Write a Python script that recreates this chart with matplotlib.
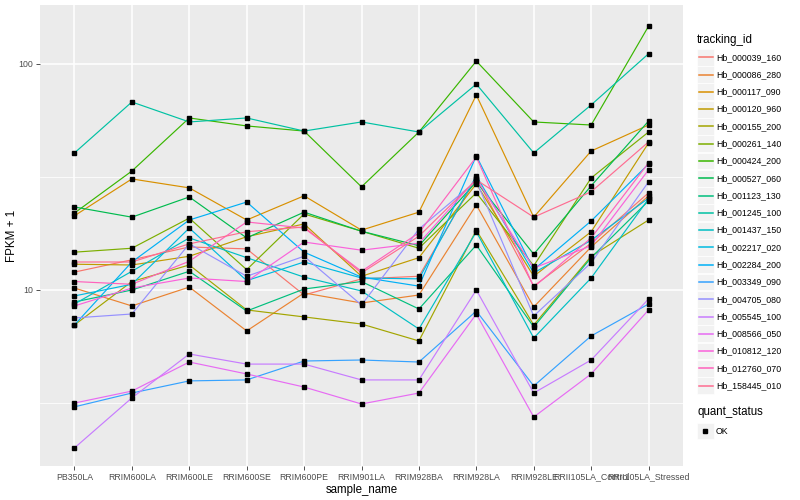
import matplotlib
matplotlib.use('Agg')
from matplotlib import pyplot as plt
from matplotlib.patches import Rectangle
from matplotlib.lines import Line2D
from matplotlib.ticker import FixedLocator, NullFormatter

plt.rcParams['font.family'] = ['Liberation Sans', 'DejaVu Sans']

samples = ['PB350LA', 'RRIM600LA', 'RRIM600LE', 'RRIM600SE', 'RRIM600PE',
           'RRIM901LA', 'RRIM928BA', 'RRIM928LA', 'RRIM928LE',
           'RRII105LA_Control', 'RRII105LA_Stressed']

ids = ['Hb_000039_160', 'Hb_000086_280', 'Hb_000117_090', 'Hb_000120_960',
       'Hb_000155_200', 'Hb_000261_140', 'Hb_000424_200', 'Hb_000527_060',
       'Hb_001123_130', 'Hb_001245_100', 'Hb_001437_150', 'Hb_002217_020',
       'Hb_002284_200', 'Hb_003349_090', 'Hb_004705_080', 'Hb_005545_100',
       'Hb_008566_050', 'Hb_010812_120', 'Hb_012760_070', 'Hb_158445_010']

# ggplot hue palette, 20 levels
colors = ['#F8766D', '#EA8331', '#D89000', '#C09B00', '#A3A500', '#7CAE00',
          '#39B600', '#00BB4E', '#00BF7D', '#00C1A3', '#00BFC4', '#00BAE0',
          '#00B0F6', '#35A2FF', '#9590FF', '#C77CFF', '#E76BF3', '#FA62DB',
          '#FF62BC', '#FF6C91']

# FPKM + 1, one value per sample
Hb_000039_160 = [12.0, 13.6, 15.5, 15.2, 9.50, 11.2, 11.5, 31.3, 10.4, 16.1, 26.9]
Hb_000086_280 = [10.2, 8.50, 10.3, 6.59, 9.70, 8.76, 9.50, 23.8, 8.41, 15.5, 26.1]
Hb_000117_090 = [21.3, 31.0, 28.3, 20.4, 26.1, 18.4, 22.1, 72.9, 21.0, 41.2, 53.7]
Hb_000120_960 = [13.0, 12.9, 14.1, 17.2, 19.6, 11.5, 13.9, 29.5, 11.5, 18.1, 44.7]
Hb_000155_200 = [7.00, 10.9, 12.9, 8.16, 7.60, 7.07, 5.95, 18.4, 7.00, 14.1, 20.4]
Hb_000261_140 = [14.7, 15.3, 20.8, 12.3, 21.7, 18.2, 15.3, 26.9, 12.8, 31.3, 50.0]
Hb_000424_200 = [21.9, 33.6, 57.7, 53.2, 50.5, 28.6, 50.0, 103.0, 55.4, 53.7, 147.0]
Hb_000527_060 = [23.3, 21.0, 25.8, 17.0, 22.1, 18.2, 15.7, 30.1, 14.4, 28.9, 55.9]
Hb_001123_130 = [8.85, 10.0, 12.1, 8.07, 10.1, 10.9, 8.24, 15.8, 6.86, 13.9, 24.8]
Hb_001245_100 = [40.4, 67.9, 55.4, 57.7, 50.5, 55.4, 50.0, 81.5, 40.4, 65.9, 111.0]
Hb_001437_150 = [8.67, 12.1, 17.0, 13.9, 11.4, 9.90, 6.72, 18.1, 6.13, 11.3, 25.3]
Hb_002217_020 = [9.41, 10.6, 18.8, 11.0, 13.3, 11.3, 11.2, 32.0, 11.9, 16.6, 25.5]
Hb_002284_200 = [7.00, 13.3, 20.4, 24.5, 14.7, 11.4, 10.4, 39.2, 12.3, 20.2, 36.1]
Hb_003349_090 = [3.04, 3.50, 3.96, 4.00, 4.85, 4.90, 4.80, 8.07, 3.76, 6.26, 8.67]
Hb_004705_080 = [7.52, 7.83, 16.0, 11.5, 14.1, 8.58, 18.6, 30.4, 7.67, 13.2, 30.1]
Hb_005545_100 = [2.00, 3.33, 5.21, 4.70, 4.70, 4.00, 4.00, 10.0, 3.50, 4.90, 9.12]
Hb_008566_050 = [3.16, 3.57, 4.80, 4.25, 3.72, 3.13, 3.50, 7.83, 2.74, 4.25, 8.16]
Hb_010812_120 = [8.50, 10.2, 11.3, 10.9, 16.3, 15.0, 16.1, 31.0, 12.5, 15.7, 34.0]
Hb_012760_070 = [10.9, 10.6, 13.4, 20.0, 18.8, 12.1, 17.9, 38.8, 10.3, 17.0, 36.5]
Hb_158445_010 = [13.3, 13.3, 16.0, 18.1, 19.0, 11.9, 17.3, 30.7, 21.0, 27.2, 45.2]

values = [Hb_000039_160, Hb_000086_280, Hb_000117_090, Hb_000120_960,
          Hb_000155_200, Hb_000261_140, Hb_000424_200, Hb_000527_060,
          Hb_001123_130, Hb_001245_100, Hb_001437_150, Hb_002217_020,
          Hb_002284_200, Hb_003349_090, Hb_004705_080, Hb_005545_100,
          Hb_008566_050, Hb_010812_120, Hb_012760_070, Hb_158445_010]

W, H = 800, 500


def fx(x):
    return x / W


def fy(y):
    return 1 - y / H


fig = plt.figure(figsize=(8, 5), dpi=100)
ax = fig.add_axes([fx(40), fy(466), fx(643), 461 / H])
ax.set_facecolor('#EBEBEB')
for s in ax.spines.values():
    s.set_visible(False)

x = list(range(len(samples)))

# lines first, then the points on top (like ggplot layers)
for i in range(len(values)):
    ax.plot(x, values[i], color=colors[i], lw=0.85, zorder=2)
for i in range(len(values)):
    ax.plot(x, values[i], 's', color='black', ms=2.2, zorder=3)

ax.set_yscale('log')
ax.set_ylim(1.664, 182.4)
ax.set_xlim(-0.6, len(samples) - 0.4)
ax.set_yticks([10, 100])
ax.set_yticklabels(['10', '100'])
ax.yaxis.set_minor_locator(FixedLocator([10 ** 0.5, 10 ** 1.5]))
ax.yaxis.set_minor_formatter(NullFormatter())
ax.set_xticks(x)
ax.set_xticklabels(samples)

ax.grid(which='major', color='white', lw=1.1)
ax.grid(which='minor', axis='y', color='white', lw=0.55)
ax.set_axisbelow(True)

ax.tick_params(which='major', labelsize=6.3, labelcolor='#4D4D4D', color='#333333',
               length=2.7, width=0.6, pad=2)
ax.tick_params(which='minor', length=0)
ax.set_xlabel('sample_name', fontsize=8.3, labelpad=2)
ax.set_ylabel('FPKM + 1', fontsize=8.3, va='center')
ax.yaxis.set_label_coords(-0.044, 0.5)

# legend, drawn by hand in the ggplot way
fig.text(fx(697), fy(40), 'tracking_id', fontsize=8.3, va='center', ha='left')
for i in range(len(ids)):
    yc = 57.3 + i * 17.28
    fig.patches.append(Rectangle((fx(697), fy(yc + 8.4)), 16.8 / W, 16.8 / H,
                                 transform=fig.transFigure, facecolor='#F2F2F2',
                                 edgecolor='white', lw=0.5, zorder=1))
    fig.lines.append(Line2D([fx(698.5), fx(712.5)], [fy(yc), fy(yc)],
                            transform=fig.transFigure, color=colors[i], lw=1.1,
                            zorder=3))
    fig.text(fx(716), fy(yc), ids[i], fontsize=6.3, va='center', ha='left')

fig.text(fx(697), fy(412), 'quant_status', fontsize=8.3, va='center', ha='left')
fig.patches.append(Rectangle((fx(697), fy(431 + 8.4)), 16.8 / W, 16.8 / H,
                             transform=fig.transFigure, facecolor='#F2F2F2',
                             edgecolor='white', lw=0.5, zorder=1))
fig.lines.append(Line2D([fx(705.4)], [fy(431)], transform=fig.transFigure,
                        marker='s', color='black', ms=2.2, lw=0, zorder=3))
fig.text(fx(716), fy(431), 'OK', fontsize=6.3, va='center', ha='left')

fig.savefig('out.png', dpi=100)
